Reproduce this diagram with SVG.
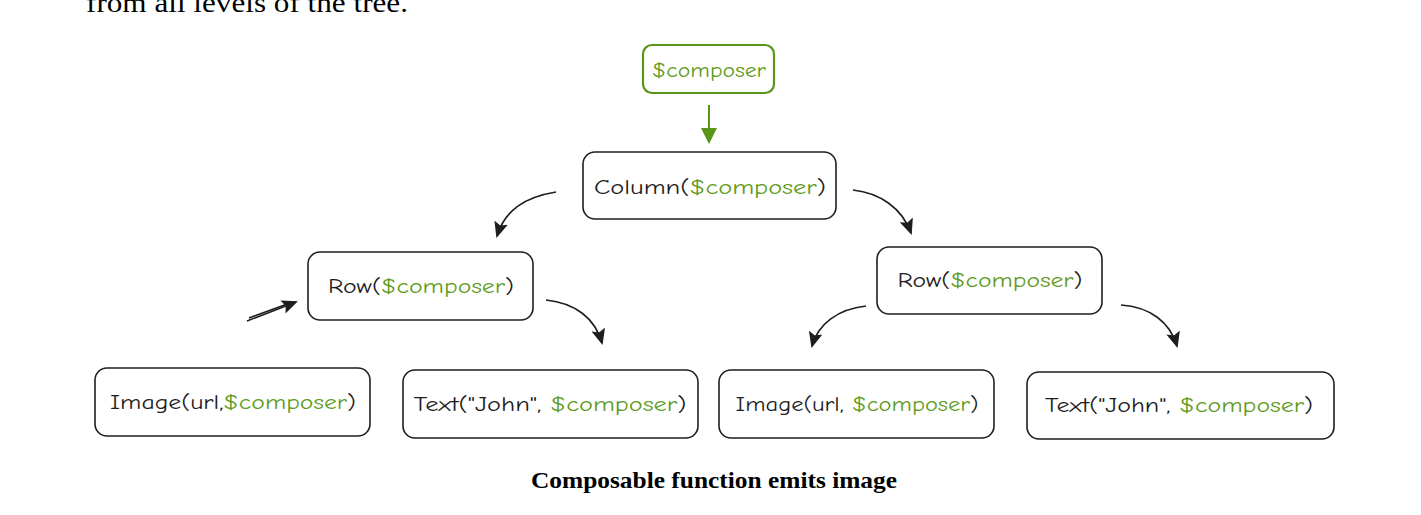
<svg xmlns="http://www.w3.org/2000/svg" width="1421" height="515" viewBox="0 0 1421 515">
<defs>
<style>
.box{fill:#fff;stroke:#1e1e1e;stroke-width:1.6}
.gbox{fill:#fff;stroke:#5a9418;stroke-width:2.2}
.lbl{font-family:"Comic Neue","Noto Sans","Liberation Sans",sans-serif;font-size:20px;fill:#1e1e1e}
.g{fill:#5f9b1c}
.edge{fill:none;stroke:#1e1e1e;stroke-width:1.6}
.gedge{fill:none;stroke:#5a9418;stroke-width:2}
</style>
<marker id="ah" viewBox="0 0 16 14" refX="14" refY="7" markerWidth="16" markerHeight="14" markerUnits="userSpaceOnUse" orient="auto">
<path d="M0,0 L16,7 L0,14 L3,7 Z" fill="#1e1e1e"/>
</marker>
<marker id="gah" viewBox="0 0 16 16" refX="14" refY="8" markerWidth="16" markerHeight="16" markerUnits="userSpaceOnUse" orient="auto">
<path d="M0,0 L16,8 L0,16 Z" fill="#5a9418"/>
</marker>
</defs>
<rect width="1421" height="515" fill="#fff"/>
<text x="86" y="12" font-family="Liberation Serif, serif" font-size="27" fill="#000" textLength="322" lengthAdjust="spacingAndGlyphs">from all levels of the tree.</text>

<g id="connectors">
<path class="gedge" d="M709,105 L709,142" marker-end="url(#gah)"/>
<path class="edge" d="M556,192 C525,197 505,210 497,236" marker-end="url(#ah)"/>
<path class="edge" d="M853,190 C880,193 902,208 911,233" marker-end="url(#ah)"/>
<path class="edge" d="M247,321 L296,302" marker-end="url(#ah)"/>
<path class="edge" d="M249,318 L290,303"/>
<path class="edge" d="M546,300 C575,303 595,318 602,343" marker-end="url(#ah)"/>
<path class="edge" d="M866,306 C838,309 818,324 812,346" marker-end="url(#ah)"/>
<path class="edge" d="M1121,305 C1150,307 1170,322 1177,346" marker-end="url(#ah)"/>
</g>

<g id="n-composer">
<rect class="gbox" x="643" y="45" width="131" height="48" rx="9"/>
<text class="lbl g" x="709" y="77" text-anchor="middle" textLength="114" lengthAdjust="spacingAndGlyphs">$composer</text>
</g>
<g id="n-column">
<rect class="box" x="583" y="152" width="253" height="67" rx="12"/>
<text class="lbl" x="710" y="194" text-anchor="middle" textLength="232" lengthAdjust="spacingAndGlyphs">Column(<tspan class="g">$composer</tspan>)</text>
</g>
<g id="n-row-left">
<rect class="box" x="308" y="252" width="225" height="68" rx="12"/>
<text class="lbl" x="421" y="293" text-anchor="middle" textLength="186" lengthAdjust="spacingAndGlyphs">Row(<tspan class="g">$composer</tspan>)</text>
</g>
<g id="n-row-right">
<rect class="box" x="877" y="247" width="225" height="67" rx="12"/>
<text class="lbl" x="990" y="287" text-anchor="middle" textLength="185" lengthAdjust="spacingAndGlyphs">Row(<tspan class="g">$composer</tspan>)</text>
</g>
<g id="n-image-left">
<rect class="box" x="95" y="368" width="275" height="68" rx="12"/>
<text class="lbl" x="233" y="409" text-anchor="middle" textLength="246" lengthAdjust="spacingAndGlyphs">Image(url,<tspan class="g">$composer</tspan>)</text>
</g>
<g id="n-text-left">
<rect class="box" x="403" y="370" width="295" height="68" rx="12"/>
<text class="lbl" x="550" y="411" text-anchor="middle" textLength="273" lengthAdjust="spacingAndGlyphs">Text("John", <tspan class="g">$composer</tspan>)</text>
</g>
<g id="n-image-right">
<rect class="box" x="719" y="370" width="275" height="68" rx="12"/>
<text class="lbl" x="857" y="411" text-anchor="middle" textLength="243" lengthAdjust="spacingAndGlyphs">Image(url, <tspan class="g">$composer</tspan>)</text>
</g>
<g id="n-text-right">
<rect class="box" x="1027" y="372" width="307" height="67" rx="12"/>
<text class="lbl" x="1179" y="412" text-anchor="middle" textLength="268" lengthAdjust="spacingAndGlyphs">Text("John", <tspan class="g">$composer</tspan>)</text>
</g>

<text x="714" y="488" text-anchor="middle" font-family="Liberation Serif, serif" font-weight="bold" font-size="24" fill="#000" textLength="366" lengthAdjust="spacingAndGlyphs">Composable function emits image</text>
</svg>
